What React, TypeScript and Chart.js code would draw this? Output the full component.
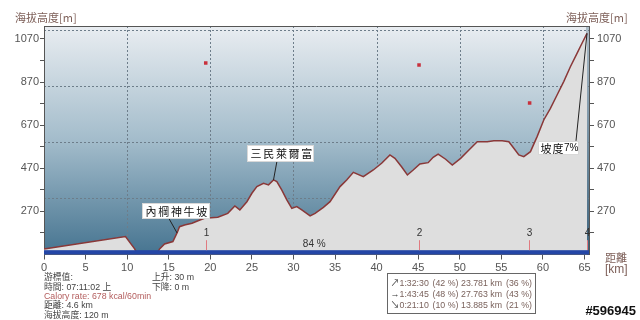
import React, { useEffect, useRef } from "react";
import { Chart, registerables } from "chart.js";

Chart.register(...registerables);

// ---- data ----
const distanceKm = [0, 9.8, 10.9, 11.2, 13.6, 13.9, 14.5, 15.5, 16.0, 16.3, 16.9, 17.8, 18.6, 19.3, 20.9, 22.1, 22.95, 23.55, 24.4, 25.0, 25.6, 26.4, 27.0, 27.6, 28.0, 28.6, 29.2, 29.8, 30.4, 31.0, 32.0, 32.6, 33.6, 34.4, 35.6, 36.4, 37.2, 38.4, 39.6, 40.6, 41.6, 42.2, 43.0, 43.7, 44.4, 45.2, 46.2, 46.8, 47.4, 48.3, 49.1, 50.1, 51.1, 52.1, 53.3, 54.1, 55.1, 55.9, 56.5, 57.1, 57.7, 58.5, 59.3, 60.1, 60.9, 61.7, 62.5, 63.3, 64.1, 64.7, 65.3];
const elevationM = [96, 153, 96, 75, 75, 96, 119, 130, 170, 199, 207, 215, 228, 238, 243, 261, 295, 277, 315, 354, 385, 400, 393, 416, 408, 369, 323, 284, 292, 277, 249, 261, 289, 315, 385, 416, 451, 431, 462, 493, 532, 516, 477, 439, 462, 490, 496, 521, 536, 512, 485, 516, 555, 593, 593, 598, 598, 593, 563, 532, 524, 547, 617, 694, 748, 810, 872, 941, 1003, 1050, 1096];

const waypointKm = [19.45, 45.1, 58.4];
const waypointM = [958, 949, 773];

const markerKm = [19.45, 45.1, 58.35, 65.3];
const markerLabels = ["1", "2", "3", "4"];
const barPercentLabel = "84 %";
const barPercentKm = 32.5;

const xTickKm = [0, 5, 10, 15, 20, 25, 30, 35, 40, 45, 50, 55, 60, 65];
const yTickM = [170, 270, 370, 470, 570, 670, 770, 870, 970, 1070];
const yLabelM = [270, 470, 670, 870, 1070];
const gridKm = [10, 20, 30, 40, 50, 60];
const gridM = [330, 590, 850, 1110];

const annotationLabels = ["三民萊爾富", "內棡神牛坡", "坡度7%"];
const annotationKm = [27.6, 16.0, 65.3];
const annotationM = [416, 170, 1096];

const infoLeft = ["游標值:", "時間: 07:11:02 上", "Calory rate: 678 kcal/60min", "距離: 4.6 km", "海拔高度: 120 m"];
const infoMid = ["上升: 30 m", "下降: 0 m"];
const statArrows = ["↗", "→", "↘"];
const statTimes = ["1:32:30", "1:43:45", "0:21:10"];
const statTimePct = ["(42 %)", "(48 %)", "(10 %)"];
const statDist = ["23.781 km", "27.763 km", "13.885 km"];
const statDistPct = ["(36 %)", "(43 %)", "(21 %)"];
const watermark = "#596945";

const SANS = '"Liberation Sans", Arial, "Noto Sans CJK TC", sans-serif';
const CJK = '"Noto Sans CJK TC", "Liberation Sans", sans-serif';

const decorPlugin = {
  id: "decor",
  beforeDraw(chart: any) {
    const { ctx, chartArea: a } = chart;
    const xs = chart.scales.x;
    const ys = chart.scales.y;
    ctx.save();
    ctx.fillStyle = "#ffffff";
    ctx.fillRect(0, 0, chart.width, chart.height);
    const g = ctx.createLinearGradient(0, a.top, 0, a.bottom);
    g.addColorStop(0, "#e9edf1");
    g.addColorStop(0.5, "#a3bccb");
    g.addColorStop(1, "#467490");
    ctx.fillStyle = g;
    ctx.fillRect(a.left, a.top, a.right - a.left, a.bottom - a.top);
    // strip beyond data end
    const xe = xs.getPixelForValue(distanceKm[distanceKm.length - 1]) - 1;
    const g2 = ctx.createLinearGradient(0, a.top, 0, a.bottom);
    g2.addColorStop(0, "#aebdc8");
    g2.addColorStop(1, "#3c627c");
    ctx.fillStyle = g2;
    ctx.fillRect(xe, a.top, a.right - xe, a.bottom - a.top);
    // dotted grid
    ctx.strokeStyle = "#6d7d8a";
    ctx.lineWidth = 1;
    ctx.setLineDash([2, 2]);
    gridKm.forEach((v) => {
      const x = Math.round(xs.getPixelForValue(v)) + 0.5;
      ctx.beginPath();
      ctx.moveTo(x, a.top);
      ctx.lineTo(x, a.bottom);
      ctx.stroke();
    });
    gridM.forEach((v) => {
      const y = Math.round(ys.getPixelForValue(v)) + 0.5;
      ctx.beginPath();
      ctx.moveTo(a.left, y);
      ctx.lineTo(a.right, y);
      ctx.stroke();
    });
    ctx.restore();
  },
  afterDatasetsDraw(chart: any) {
    const { ctx, chartArea: a } = chart;
    const xs = chart.scales.x;
    const ys = chart.scales.y;
    ctx.save();
    // blue bar
    const barTop = ys.getPixelForValue(90);
    ctx.fillStyle = "#2446a6";
    ctx.fillRect(a.left, barTop, a.right - a.left, a.bottom - barTop);
    // markers
    ctx.font = "10px " + SANS;
    ctx.textAlign = "center";
    ctx.textBaseline = "middle";
    markerKm.forEach((k, i) => {
      const x = Math.round(xs.getPixelForValue(k)) + 0.5;
      ctx.strokeStyle = "#e07a80";
      ctx.lineWidth = 1;
      ctx.beginPath();
      ctx.moveTo(x, barTop - 10);
      ctx.lineTo(x, barTop);
      ctx.stroke();
      ctx.fillStyle = "#333";
      ctx.fillText(markerLabels[i], x, barTop - 16.5);
    });
    ctx.fillStyle = "#333";
    ctx.fillText(barPercentLabel, xs.getPixelForValue(barPercentKm), barTop - 5.5);
    // top border
    ctx.strokeStyle = "#555";
    ctx.beginPath();
    ctx.moveTo(a.left, Math.round(a.top) + 0.5);
    ctx.lineTo(a.right, Math.round(a.top) + 0.5);
    ctx.stroke();
    // annotations
    const layouts = [
      { dx: -26.5, dy: -35, w: 66, h: 16, lx: 3.5, ly: -19 },
      { dx: -35, dy: -30, w: 67, h: 15, lx: -9, ly: -16 },
      { dx: -49, dy: 107.5, w: 40, h: 13, lx: -11, ly: 107.5 },
    ];
    annotationLabels.forEach((t, i) => {
      const px = xs.getPixelForValue(annotationKm[i]);
      const py = ys.getPixelForValue(annotationM[i]);
      const L = layouts[i];
      const bx = Math.round(px + L.dx) + 0.5;
      const by = Math.round(py + L.dy) + 0.5;
      ctx.strokeStyle = "#222";
      ctx.lineWidth = 1;
      ctx.beginPath();
      ctx.moveTo(px + L.lx, py + L.ly);
      ctx.lineTo(px, py);
      ctx.stroke();
      ctx.fillStyle = "#ffffff";
      ctx.fillRect(bx, by, L.w, L.h);
      ctx.strokeStyle = "#d8d8d8";
      ctx.strokeRect(bx, by, L.w, L.h);
      ctx.fillStyle = "#111";
      ctx.textAlign = "left";
      ctx.textBaseline = "middle";
      const chars = Array.from(t);
      if (i < 2) {
        ctx.font = "11px " + CJK;
        chars.forEach((c, j) => ctx.fillText(c, bx + 3 + j * 12.7, by + L.h / 2 + 0.5));
      } else {
        ctx.font = "11px " + CJK;
        ctx.fillText(chars[0], bx + 2, by + L.h / 2 + 0.5);
        ctx.fillText(chars[1], bx + 14, by + L.h / 2 + 0.5);
        ctx.font = "10px " + SANS;
        ctx.fillText("7%", bx + 25.5, by + L.h / 2 + 0.5);
      }
    });
    ctx.restore();
  },
  afterDraw(chart: any) {
    const { ctx } = chart;
    ctx.save();
    ctx.textBaseline = "middle";
    ctx.textAlign = "left";
    ctx.fillStyle = "#7d5f58";
    ctx.font = "11px " + CJK;
    ctx.fillText("海拔高度[m]", 15, 18);
    ctx.fillText("海拔高度[m]", 566, 18);
    ctx.fillText("距離", 605, 258);
    ctx.font = "12px " + SANS;
    ctx.fillText("[km]", 605, 270);
    // info left
    ctx.font = "8.8px " + SANS;
    infoLeft.forEach((t, i) => {
      ctx.fillStyle = i === 2 ? "#b35c5c" : "#444";
      ctx.fillText(t, 44, 278 + i * 9.3);
    });
    ctx.fillStyle = "#444";
    infoMid.forEach((t, i) => ctx.fillText(t, 152, 278 + i * 9.3));
    // stats box
    ctx.fillStyle = "#ffffff";
    ctx.fillRect(387.5, 273.5, 148, 40);
    ctx.strokeStyle = "#666";
    ctx.lineWidth = 1;
    ctx.strokeRect(387.5, 273.5, 148, 40);
    for (let i = 0; i < 3; i++) {
      const y = 284 + i * 11;
      ctx.fillStyle = "#333";
      ctx.font = "9px " + SANS;
      ctx.fillText(statArrows[i], 390.5, y);
      ctx.fillStyle = "#7a625c";
      ctx.font = "8.8px " + SANS;
      ctx.fillText(statTimes[i], 399.5, y);
      ctx.fillText(statTimePct[i], 432.5, y);
      ctx.fillText(statDist[i], 461, y);
      ctx.fillText(statDistPct[i], 506, y);
    }
    // watermark
    ctx.font = "bold 13px " + SANS;
    ctx.textAlign = "right";
    ctx.lineWidth = 2;
    ctx.strokeStyle = "#ffffff";
    ctx.strokeText(watermark, 636, 311);
    ctx.fillStyle = "#111";
    ctx.fillText(watermark, 636, 311);
    ctx.restore();
  },
};

export default function App() {
  const ref = useRef<HTMLCanvasElement | null>(null);
  useEffect(() => {
    if (!ref.current) return;
    const profile = distanceKm.map((d, i) => ({ x: d, y: elevationM[i] }));
    const points = waypointKm.map((d, i) => ({ x: d, y: waypointM[i] }));
    const yAxisCommon = {
      type: "linear" as const,
      min: 70,
      max: 1130,
      afterBuildTicks: (s: any) => {
        s.ticks = yTickM.map((v) => ({ value: v }));
      },
      ticks: {
        autoSkip: false,
        color: "#555",
        font: { family: SANS, size: 11 },
        callback: (v: any) => (yLabelM.includes(Number(v)) ? String(v) : ""),
      },
      grid: { drawOnChartArea: false, drawTicks: true, color: "#555" },
      border: { display: true, color: "#555" },
    };
    const chart = new Chart(ref.current, {
      type: "line",
      data: {
        datasets: [
          {
            type: "scatter" as any,
            data: points,
            pointStyle: "rect",
            pointRadius: 2.5,
            backgroundColor: "#c8303c",
            borderWidth: 0,
            order: 0,
          } as any,
          {
            data: profile,
            borderColor: "#8a3838",
            borderWidth: 1.5,
            backgroundColor: "#dedede",
            fill: "start",
            pointRadius: 0,
            tension: 0,
            order: 1,
          },
        ],
      },
      plugins: [decorPlugin],
      options: {
        responsive: false,
        animation: false,
        events: [],
        layout: { padding: { top: 26, left: 0, right: 0, bottom: 0 } },
        plugins: { legend: { display: false }, tooltip: { enabled: false } },
        scales: {
          x: {
            type: "linear",
            min: 0,
            max: 65.54,
            afterBuildTicks: (s: any) => {
              s.ticks = xTickKm.map((v) => ({ value: v }));
            },
            afterFit: (s: any) => {
              s.height = 65.5;
            },
            ticks: { autoSkip: false, maxRotation: 0, color: "#555", padding: 2, font: { family: SANS, size: 11 } },
            grid: { drawOnChartArea: false, drawTicks: true, tickLength: 5, color: "#555" },
            border: { display: true, color: "#555" },
          },
          y: {
            ...yAxisCommon,
            position: "left",
            afterFit: (s: any) => {
              s.width = 44;
            },
            ticks: { ...yAxisCommon.ticks, padding: 1 },
            grid: { ...yAxisCommon.grid, tickLength: 4 },
          },
          y2: {
            ...yAxisCommon,
            position: "right",
            afterFit: (s: any) => {
              s.width = 51;
            },
            ticks: { ...yAxisCommon.ticks, padding: 3 },
            grid: { ...yAxisCommon.grid, tickLength: 5 },
          },
        } as any,
      },
    });
    return () => chart.destroy();
  }, []);
  return (
    <div style={{ position: "fixed", left: 0, top: 0, width: 640, height: 320, background: "#fff" }}>
      <canvas ref={ref} width={640} height={320} style={{ display: "block", width: 640, height: 320 }} />
    </div>
  );
}
